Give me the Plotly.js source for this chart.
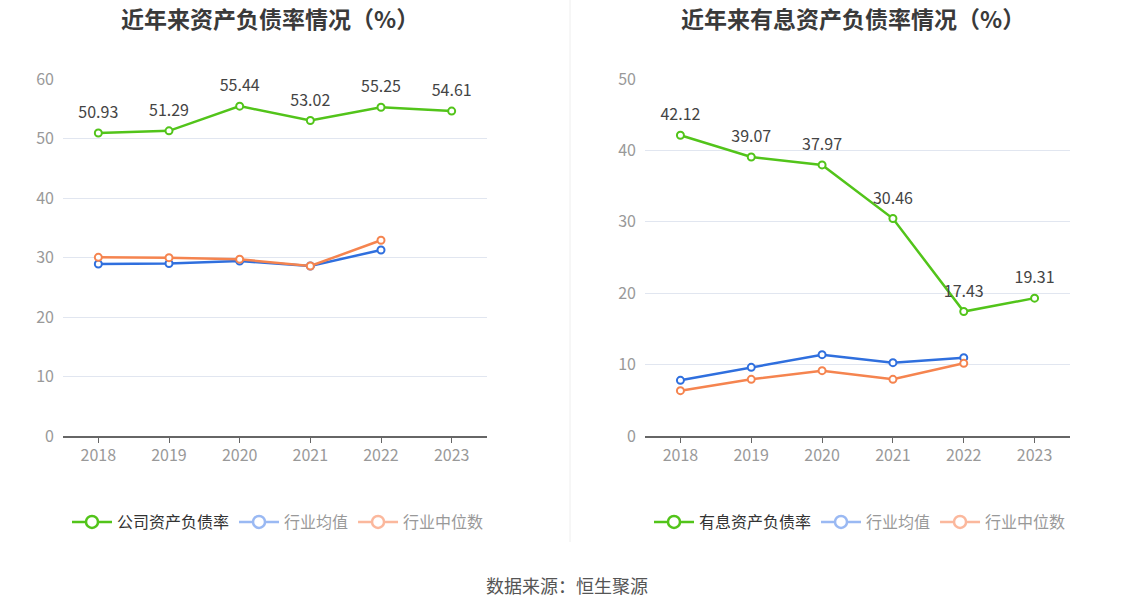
<!DOCTYPE html>
<html>
<head>
<meta charset="utf-8">
<script src="https://cdn.plot.ly/plotly-3.0.1.min.js"></script>
<style>html,body{margin:0;padding:0;background:#fff;}#chart{width:1134px;height:612px;}</style>
</head>
<body>
<div id="chart"></div>
<script>
const years = ['2018', '2019', '2020', '2021', '2022', '2023'];
const assetDebtCompany = [50.93, 51.29, 55.44, 53.02, 55.25, 54.61];
const assetDebtIndustryAvg = [28.9, 29.0, 29.4, 28.57, 31.26, null];
const assetDebtIndustryMedian = [30.03, 29.97, 29.7, 28.57, 32.9, null];
const interestDebtCompany = [42.12, 39.07, 37.97, 30.46, 17.43, 19.31];
const interestDebtIndustryAvg = [7.8, 9.62, 11.39, 10.27, 10.97, null];
const interestDebtIndustryMedian = [6.35, 7.94, 9.15, 7.94, 10.18, null];

const leftTitle = '近年来资产负债率情况（%）';
const rightTitle = '近年来有息资产负债率情况（%）';
const leftCompanyName = '公司资产负债率';
const rightCompanyName = '有息资产负债率';
const avgName = '行业均值';
const medianName = '行业中位数';
const sourceText = '数据来源：恒生聚源';

const GREEN = '#52c41a', BLUE = '#2f6fde', ORANGE = '#f5844f';
const LBLUE = '#9ab9f3', LORANGE = '#fbb89d';
const FONT = '"Noto Sans CJK SC", "Noto Sans", sans-serif';

function series(x, y, color, xa, ya) {
  return {
    x: x, y: y, xaxis: xa, yaxis: ya, type: 'scatter', mode: 'lines+markers',
    line: {color: color, width: 2.5},
    marker: {size: 7, color: '#fff', line: {color: color, width: 2}},
    showlegend: false, hoverinfo: 'skip', cliponaxis: false
  };
}
function labels(x, y, xa, ya) {
  return {
    x: x, y: y, xaxis: xa, yaxis: ya, type: 'scatter', mode: 'markers+text',
    marker: {size: 16, opacity: 0},
    text: y.map(v => v.toFixed(2)), textposition: 'top center',
    textfont: {size: 16, color: '#444', family: FONT},
    showlegend: false, hoverinfo: 'skip', cliponaxis: false
  };
}
function legendItem(name, color, textColor, legend) {
  return {
    x: [null], y: [null], type: 'scatter', mode: 'lines+markers',
    name: '<span style="color:' + textColor + '">' + name + '</span>',
    line: {color: color, width: 2.5},
    marker: {size: 12, color: '#fff', line: {color: color, width: 2.5}},
    legend: legend, showlegend: true, hoverinfo: 'skip', xaxis: 'x', yaxis: 'y'
  };
}

const data = [
  series(years, assetDebtIndustryAvg, BLUE, 'x', 'y'),
  series(years, assetDebtIndustryMedian, ORANGE, 'x', 'y'),
  series(years, assetDebtCompany, GREEN, 'x', 'y'),
  labels(years, assetDebtCompany, 'x', 'y'),
  series(years, interestDebtIndustryAvg, BLUE, 'x2', 'y2'),
  series(years, interestDebtIndustryMedian, ORANGE, 'x2', 'y2'),
  series(years, interestDebtCompany, GREEN, 'x2', 'y2'),
  labels(years, interestDebtCompany, 'x2', 'y2'),
  legendItem(leftCompanyName, GREEN, '#333', 'legend'),
  legendItem(avgName, LBLUE, '#999', 'legend'),
  legendItem(medianName, LORANGE, '#999', 'legend'),
  legendItem(rightCompanyName, GREEN, '#333', 'legend2'),
  legendItem(avgName, LBLUE, '#999', 'legend2'),
  legendItem(medianName, LORANGE, '#999', 'legend2')
];

const xCommon = {
  type: 'category', range: [-0.5, 5.5], showgrid: false, showline: true,
  linecolor: '#666', linewidth: 1.5, ticks: 'outside', ticklen: 5, tickcolor: '#666',
  tickfont: {size: 16, color: '#999', family: FONT}, fixedrange: true, automargin: false,
  ticklabelstandoff: -1
};
const yCommon = {
  showgrid: true, gridcolor: '#e1e6f0', gridwidth: 1, zeroline: false, showline: false,
  tickfont: {size: 16, color: '#999', family: FONT}, ticks: '', automargin: false, fixedrange: true,
  ticklabelstandoff: 8
};
const yDom = [1 - 436 / 612, 1 - 79 / 612];
const legendCommon = {
  orientation: 'h', xanchor: 'center', yanchor: 'middle', y: 1 - 522 / 612,
  font: {size: 16, family: FONT, color: '#333'}, itemwidth: 40, tracegroupgap: 0,
  bgcolor: 'rgba(0,0,0,0)'
};

const layout = {
  width: 1134, height: 612,
  margin: {l: 0, r: 0, t: 0, b: 0},
  paper_bgcolor: '#fff', plot_bgcolor: '#fff',
  font: {family: FONT},
  xaxis: Object.assign({}, xCommon, {domain: [63 / 1134, 487 / 1134], anchor: 'y'}),
  yaxis: Object.assign({}, yCommon, {domain: yDom, range: [0, 60], dtick: 10, anchor: 'x'}),
  xaxis2: Object.assign({}, xCommon, {domain: [645 / 1134, 1070 / 1134], anchor: 'y2'}),
  yaxis2: Object.assign({}, yCommon, {domain: yDom, range: [0, 50], dtick: 10, anchor: 'x2'}),
  legend: Object.assign({}, legendCommon, {x: 278 / 1134}),
  legend2: Object.assign({}, legendCommon, {x: 860 / 1134}),
  annotations: [
    {text: '<b>' + leftTitle + '</b>', xref: 'paper', yref: 'paper', x: 270 / 1134, y: 1 - 18 / 612,
     xanchor: 'center', yanchor: 'middle', showarrow: false, font: {size: 23, color: '#3a3a3a', family: FONT}},
    {text: '<b>' + rightTitle + '</b>', xref: 'paper', yref: 'paper', x: 853 / 1134, y: 1 - 18 / 612,
     xanchor: 'center', yanchor: 'middle', showarrow: false, font: {size: 23, color: '#3a3a3a', family: FONT}},
    {text: sourceText, xref: 'paper', yref: 'paper', x: 567 / 1134, y: 1 - 585 / 612,
     xanchor: 'center', yanchor: 'middle', showarrow: false, font: {size: 18, color: '#555', family: FONT}}
  ],
  shapes: [
    {type: 'line', xref: 'paper', yref: 'paper', x0: 570 / 1134, x1: 570 / 1134, y0: 1 - 542 / 612, y1: 1,
     line: {color: '#eeeeee', width: 1}}
  ]
};

Plotly.newPlot('chart', data, layout, {displayModeBar: false, staticPlot: true});
</script>
</body>
</html>
